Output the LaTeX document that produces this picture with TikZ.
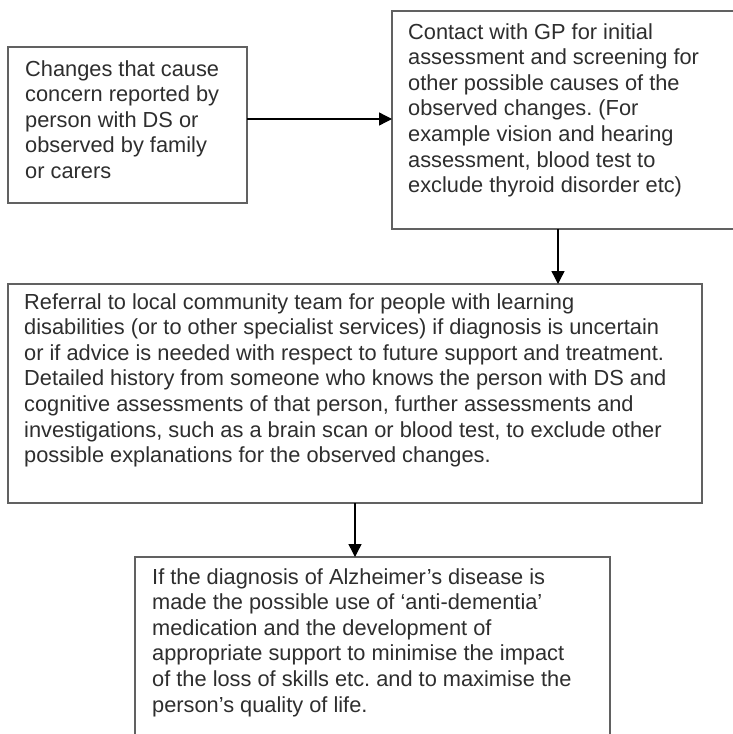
\documentclass[tikz,border=0pt]{standalone}
\usepackage{fontspec}
\setmainfont{Liberation Sans}
\usetikzlibrary{arrows.meta}
\frenchspacing
\begin{document}
\begin{tikzpicture}[x=1pt,y=1pt,
  boxst/.style={draw=black!62, line width=1.6pt, inner sep=0pt, outer sep=0pt, anchor=north west},
  txt/.style={anchor=north west, inner sep=0pt, align=left, text=black!82,
    font=\fontsize{21.8pt}{25.6pt}\selectfont\frenchspacing},
  arr/.style={draw=black, line width=1.4pt, -{Triangle[length=13pt,width=13pt]}}]
\useasboundingbox (0,0) rectangle (733,-734);
\fill[white] (0,0) rectangle (733,-734);
\clip (0,0) rectangle (733,-734);
% boxes
\node[boxst, minimum width=239pt, minimum height=156pt] (b1) at (8,-47) {};
\node[boxst, minimum width=360pt, minimum height=218pt] (b2) at (392,-11) {};
\node[boxst, minimum width=694pt, minimum height=219pt] (b3) at (8,-284) {};
\node[boxst, minimum width=475pt, minimum height=220pt] (b4) at (135,-557) {};
% texts
\node[txt] (t1) at (25,-60) {Changes that cause\\concern reported by\\person with DS or\\observed by family\\or carers};
\node[txt] (t2) at (408,-23) {Contact with GP for initial\\assessment and screening for\\other possible causes of the\\observed changes. (For\\example vision and hearing\\assessment, blood test to\\exclude thyroid disorder etc)};
\node[txt] (t3) at (24,-293) {Referral to local community team for people with learning\\disabilities (or to other specialist services) if diagnosis is uncertain\\or if advice is needed with respect to future support and treatment.\\Detailed history from someone who knows the person with DS and\\cognitive assessments of that person, further assessments and\\investigations, such as a brain scan or blood test, to exclude other\\possible explanations for the observed changes.};
\node[txt] (t4) at (152,-568) {If the diagnosis of Alzheimer’s disease is\\made the possible use of ‘anti-dementia’\\medication and the development of\\appropriate support to minimise the impact\\of the loss of skills etc. and to maximise the\\person’s quality of life.};
% connectors
\draw[arr] ([yshift=6pt]b1.east) -- ([yshift=6pt]b1.east -| b2.west);
\draw[arr] ([xshift=166pt]b2.south west) -- ([xshift=166pt]b2.south west |- b3.north);
\draw[arr] (b3.south) -- (b3.south |- b4.north);
\end{tikzpicture}
\end{document}
